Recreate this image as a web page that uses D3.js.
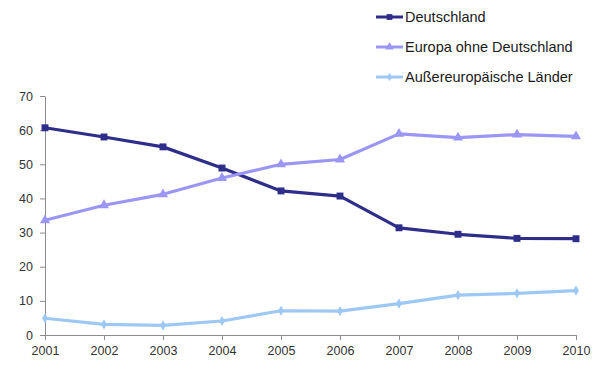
<!DOCTYPE html>
<html>
<head>
<meta charset="utf-8">
<script src="https://cdn.jsdelivr.net/npm/d3@7"></script>
<style>
body { margin: 0; background: #fff; }
svg { font-family: "Liberation Sans", Arial, sans-serif; }
.axis path, .axis line { stroke: #8c8c8c; }
.axis text { fill: #333; font-size: 12.5px; }
</style>
</head>
<body>
<svg id="chart" width="606" height="367"></svg>
<script>
var years = [2001, 2002, 2003, 2004, 2005, 2006, 2007, 2008, 2009, 2010];
var deutschland = [60.7, 58.0, 55.1, 48.9, 42.2, 40.7, 31.4, 29.5, 28.3, 28.2];
var europa = [33.6, 38.0, 41.2, 46.0, 50.0, 51.4, 58.9, 57.8, 58.7, 58.2];
var aussereuropa = [4.9, 3.1, 2.8, 4.1, 7.1, 7.0, 9.2, 11.7, 12.2, 13.0];
var yTicks = [0, 10, 20, 30, 40, 50, 60, 70];

var series = [
	{name: "Deutschland", values: deutschland, color: "#2e2e8a", symbol: d3.symbolSquare, size: 48},
	{name: "Europa ohne Deutschland", values: europa, color: "#9b96f4", symbol: d3.symbolTriangle, size: 45},
	{name: "Außereuropäische Länder", values: aussereuropa, color: "#9ec8f4", symbol: d3.symbolDiamond, size: 30}
];

function drawChart() {
	const svg = d3.select("#chart"),
		mLeft = 45, mRight = 576, mTop = 96, mBottom = 335;

	const x = d3.scaleLinear().domain([2001, 2010]).range([mLeft, mRight]);
	const y = d3.scaleLinear().domain([0, 70]).range([mBottom, mTop]);

	svg.append("g")
		.attr("class", "axis")
		.attr("transform", `translate(${mLeft},0)`)
		.call(d3.axisLeft(y).tickValues(yTicks).tickSize(5).tickSizeOuter(0).tickPadding(6))
		.call(g => g.selectAll("text").attr("dx", "-1"));

	svg.append("g")
		.attr("class", "axis")
		.attr("transform", `translate(0,${mBottom})`)
		.call(d3.axisBottom(x).tickValues(years).tickFormat(d3.format("d")).tickSize(5).tickSizeOuter(0).tickPadding(6));

	const line = d3.line()
		.x((d, i) => x(years[i]))
		.y(d => y(d));

	series.forEach(function(s) {
		svg.append("path")
			.attr("d", line(s.values))
			.attr("fill", "none")
			.attr("stroke", s.color)
			.attr("stroke-width", 3.2)
			.attr("stroke-linejoin", "round");

		svg.selectAll(null)
			.data(s.values)
			.enter().append("path")
			.attr("d", d3.symbol().type(s.symbol).size(s.size))
			.attr("transform", (d, i) => `translate(${x(years[i])},${y(d)})`)
			.attr("fill", s.color);
	});

	// legend
	const legend = svg.append("g").attr("transform", "translate(376,17)");
	series.forEach(function(s, i) {
		const row = legend.append("g").attr("transform", `translate(0,${i * 30})`);
		row.append("line")
			.attr("x1", 0).attr("x2", 27)
			.attr("stroke", s.color).attr("stroke-width", 3);
		row.append("path")
			.attr("d", d3.symbol().type(s.symbol).size(s.size * 0.7))
			.attr("transform", "translate(13.5,0)")
			.attr("fill", s.color);
		row.append("text")
			.attr("x", 29).attr("y", 5)
			.attr("font-size", 14.5)
			.attr("fill", "#1a1a1a")
			.text(s.name);
	});
}

drawChart();
</script>
</body>
</html>
